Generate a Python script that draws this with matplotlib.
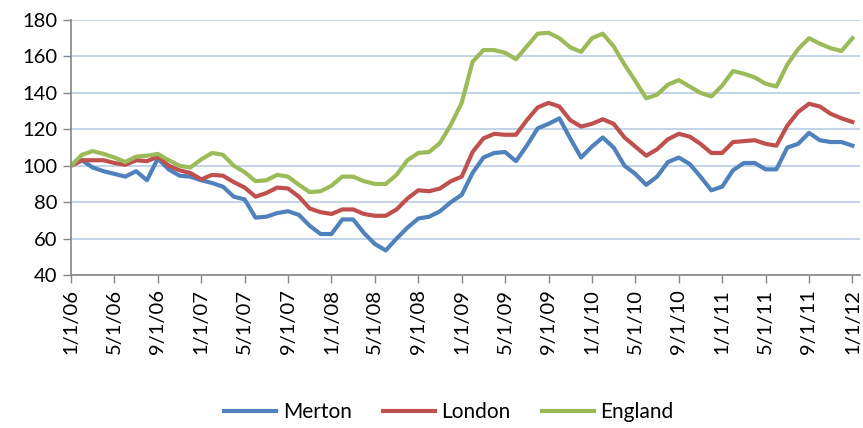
import numpy as np
import matplotlib.pyplot as plt

plt.rcParams['font.family'] = ['Lato', 'DejaVu Sans']

# monthly index, Jan 2006 = 100
months = np.arange(73)
tick_labels = ["1/1/06", "5/1/06", "9/1/06", "1/1/07", "5/1/07", "9/1/07",
               "1/1/08", "5/1/08", "9/1/08", "1/1/09", "5/1/09", "9/1/09",
               "1/1/10", "5/1/10", "9/1/10", "1/1/11", "5/1/11", "9/1/11", "1/1/12"]

merton = [100, 103, 99, 97, 95.5, 94, 97, 92, 104, 98, 94.5, 94,
          92, 90.5, 88.5, 83, 81.5, 71.5, 72, 74, 75, 73, 67, 62.5,
          62.5, 70.5, 70.5, 63, 57, 53.5, 60, 66, 71, 72, 75, 80,
          84, 96, 104.5, 107, 107.5, 102.5, 111, 120.5, 123, 126, 115, 104.5,
          110.5, 115.5, 110, 100, 95.5, 89.5, 94, 102, 104.5, 101, 94, 86.5,
          88.5, 97.5, 101.5, 101.5, 98, 98, 110, 112, 118, 114, 113, 113,
          111]
london = [100, 103, 103, 103, 101.5, 100.5, 103, 102.5, 105, 100, 97.5, 96,
          92.5, 95, 94.5, 91, 88, 83, 85, 88, 87.5, 83, 76.5, 74.5,
          73.5, 76, 76, 73.5, 72.5, 72.5, 76, 82, 86.5, 86, 87.5, 91.5,
          94, 107.5, 115, 117.5, 117, 117, 125, 132, 134.5, 132.5, 125, 121.5,
          123, 125.5, 123, 115.5, 110.5, 105.5, 109, 114.5, 117.5, 116, 112, 107,
          107, 113, 113.5, 114, 112, 111, 122, 129.5, 134, 132.5, 128.5, 126,
          124]
england = [100, 106, 108, 106.5, 104.5, 102, 105, 105.5, 106.5, 103, 100, 99,
           103.5, 107, 106, 100, 96.5, 91.5, 92, 95, 94, 89.5, 85.5, 86,
           89, 94, 94, 91.5, 90, 90, 95, 103, 107, 107.5, 112.5, 122.5,
           134.5, 157, 163.5, 163.5, 162, 158.5, 165.5, 172.5, 173, 170, 165, 162.5,
           170, 172.5, 165.5, 155.5, 146.5, 137, 139, 144.5, 147, 143.5, 140, 138,
           144, 152, 150.5, 148.5, 145, 143.5, 155.5, 164, 170, 167, 164.5, 163,
           170]

fig = plt.figure(figsize=(8.63, 4.28), dpi=100)
ax = fig.add_axes([71/863, 1-275/428, (860-71)/863, 255/428])

ax.plot(months, merton, color="#4F81BD", lw=3, label="Merton", solid_joinstyle="round")
ax.plot(months, london, color="#C0504D", lw=3, label="London", solid_joinstyle="round")
ax.plot(months, england, color="#9BBB59", lw=3, label="England", solid_joinstyle="round")

ax.set_xlim(0, 72.7)
ax.set_ylim(40, 180)
ax.set_yticks(range(40, 181, 20))
ax.set_xticks(months[::4])
ax.set_xticklabels(tick_labels, rotation=90)
ax.tick_params(labelsize=14.5, colors="#000000", length=6, width=1, pad=4)
ax.tick_params(axis="both", color="#868686")

ax.grid(axis="y", color="#B9CDE5", lw=1.2)
ax.set_axisbelow(True)
for s in ["top", "right"]:
    ax.spines[s].set_visible(False)
for s in ["left", "bottom"]:
    ax.spines[s].set_color("#868686")
    ax.spines[s].set_linewidth(1.2)

fig.legend(loc="lower center", bbox_to_anchor=(0.52, -0.03), ncol=3, frameon=False,
           fontsize=15, handlelength=2.5, handletextpad=0.3, columnspacing=1.5)

fig.savefig("out.png", dpi=100)
